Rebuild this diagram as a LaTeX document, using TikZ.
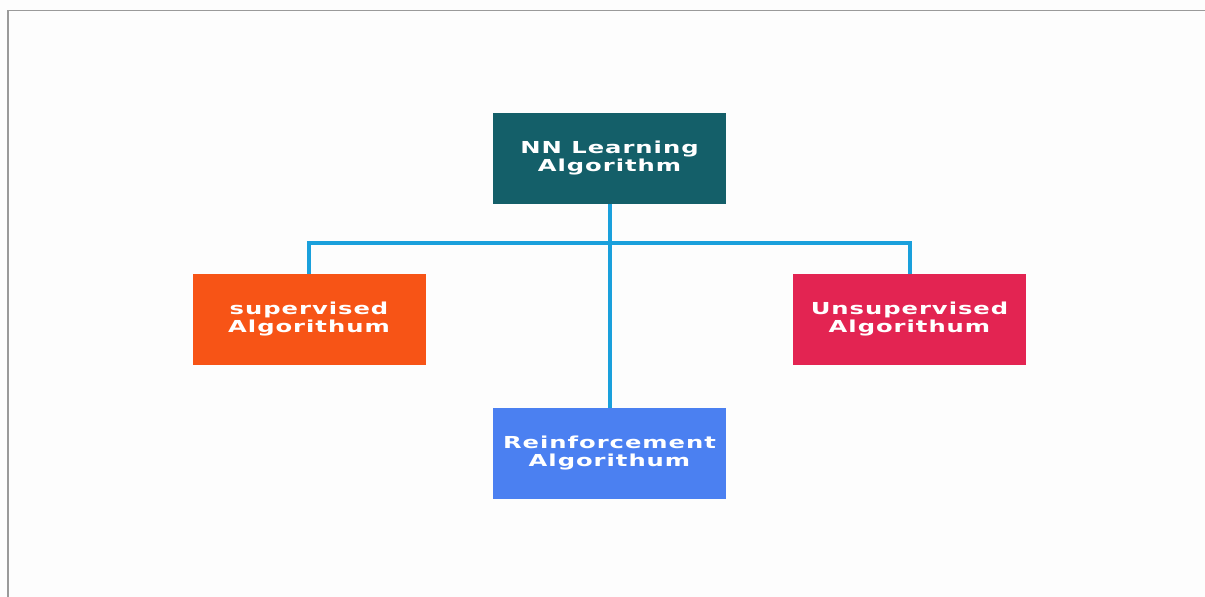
\documentclass[tikz,border=0pt]{standalone}
\usepackage{fontspec}
\setmainfont{DejaVu Sans}
\newfontfamily\boxfont[LetterSpace=4]{DejaVu Sans Bold}
\definecolor{bgc}{HTML}{FDFDFD}
\definecolor{framec}{HTML}{9A9A9A}
\definecolor{tealc}{HTML}{145F69}
\definecolor{orangec}{HTML}{F75416}
\definecolor{crimsonc}{HTML}{E32452}
\definecolor{bluec}{HTML}{4B80F1}
\definecolor{linec}{HTML}{1AA0DC}
\newcommand{\boxtext}[2]{\scalebox{1.47}[1]{\begin{tabular}{@{}c@{}}#1\\#2\end{tabular}}}
\begin{document}
\begin{tikzpicture}[x=1pt,y=-1pt,
  algbox/.style={rectangle, minimum width=233pt, minimum height=91pt, inner sep=0pt,
    text=white, align=center, font=\boxfont\fontsize{16.5}{18}\selectfont},
  link/.style={draw=linec, line width=4pt}]
\useasboundingbox (0,0) rectangle (1205,597);
\fill[bgc] (0,0) rectangle (1205,597);
\draw[framec, line width=1.2pt] (8,597) -- (8,10.5) -- (1205,10.5);
\node[algbox, fill=tealc] (top) at (609.5,158.5) {\boxtext{NN Learning}{Algorithm}};
\node[algbox, fill=orangec] (sup) at (309,319.5) {\boxtext{supervised}{Algorithum}};
\node[algbox, fill=crimsonc] (uns) at (909.5,319.5) {\boxtext{Unsupervised}{Algorithum}};
\node[algbox, fill=bluec] (rei) at (609.5,453.5) {\boxtext{Reinforcement}{Algorithum}};
\coordinate (j) at (609.5,243);
\draw[link] (top.south) -- (rei.north);
\draw[link] (sup.north) |- (j) -| (uns.north);
\end{tikzpicture}
\end{document}
